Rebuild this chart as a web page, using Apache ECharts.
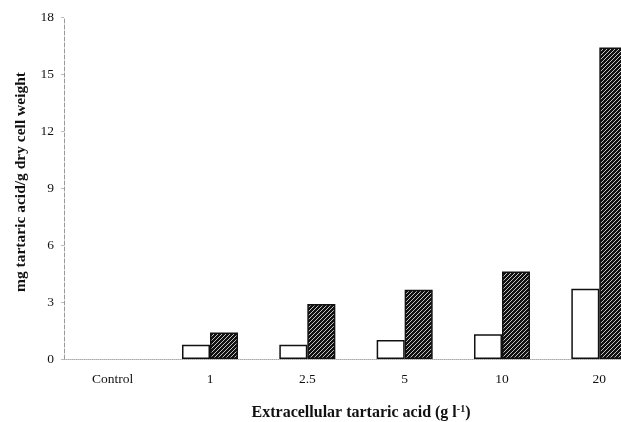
<!DOCTYPE html>
<html>
<head>
<meta charset="utf-8">
<script src="https://cdn.jsdelivr.net/npm/echarts@6/dist/echarts.min.js"></script>
<style>
  html, body { margin: 0; padding: 0; background: #fff; }
  #chart { width: 621px; height: 422px; }
</style>
</head>
<body>
<div id="chart"></div>
<script>
// data
var categories = ['Control', '1', '2.5', '5', '10', '20']
var openBars = [null, 0.75, 0.75, 1.0, 1.3, 3.7]
var hatchedBars = [null, 1.4, 2.9, 3.65, 4.6, 16.4]
var yTicks = { min: 0, max: 18, interval: 3 }

// diagonal hatch tile
function hatchTile() {
  var c = document.createElement('canvas')
  c.width = 4
  c.height = 4
  var ctx = c.getContext('2d')
  ctx.fillStyle = '#111'
  ctx.fillRect(0, 0, 4, 4)
  ctx.strokeStyle = '#d8d8d8'
  ctx.lineWidth = 0.9
  ctx.beginPath()
  ctx.moveTo(-1, 5); ctx.lineTo(5, -1)
  ctx.moveTo(-1, 1); ctx.lineTo(1, -1)
  ctx.moveTo(3, 5); ctx.lineTo(5, 3)
  ctx.stroke()
  return c
}

var serif = "'Liberation Serif', 'DejaVu Serif', serif"
var myChart = echarts.init(document.getElementById('chart'))
var option = {
  animation: false,
  backgroundColor: '#fff',
  grid: { left: 64, top: 17, bottom: 63, width: 584, outerBoundsMode: 'none', containLabel: false },
  xAxis: {
    type: 'category',
    data: categories,
    name: 'Extracellular tartaric acid (g l{sup|-1})',
    nameLocation: 'middle',
    nameGap: 45,
    nameTextStyle: {
      fontFamily: serif, fontSize: 16, fontWeight: 'bold', color: '#111', padding: [0, 0, 0, 10],
      rich: {
        sup: { fontFamily: serif, fontSize: 10, fontWeight: 'bold', color: '#111', verticalAlign: 'top', padding: [0, 0, 7, 0] }
      }
    },
    axisLine: { lineStyle: { color: '#aaa', type: 'dotted', width: 1 } },
    axisTick: { show: false },
    axisLabel: { fontFamily: serif, fontSize: 13.5, color: '#111', margin: 13 }
  },
  yAxis: {
    type: 'value',
    min: yTicks.min,
    max: yTicks.max,
    interval: yTicks.interval,
    name: 'mg tartaric acid/g dry cell weight',
    nameLocation: 'middle',
    nameGap: 35,
    nameTextStyle: { fontFamily: serif, fontSize: 15.5, fontWeight: 'bold', color: '#111', padding: [0, 0, 0, 12] },
    axisLine: { show: true, lineStyle: { color: '#999', type: 'dashed', width: 1 } },
    axisTick: { show: true, length: 3, lineStyle: { color: '#bbb' } },
    axisLabel: { fontFamily: serif, fontSize: 13.5, color: '#111', margin: 10 },
    splitLine: { show: false }
  },
  series: [
    {
      type: 'bar',
      data: openBars,
      barWidth: 28,
      barGap: '0%',
      itemStyle: { color: '#fff', borderColor: '#111', borderWidth: 1.5 }
    },
    {
      type: 'bar',
      data: hatchedBars,
      barWidth: 28,
      itemStyle: {
        color: { image: hatchTile(), repeat: 'repeat' },
        borderColor: '#111',
        borderWidth: 1.5
      }
    }
  ]
}
myChart.setOption(option)
</script>
</body>
</html>
